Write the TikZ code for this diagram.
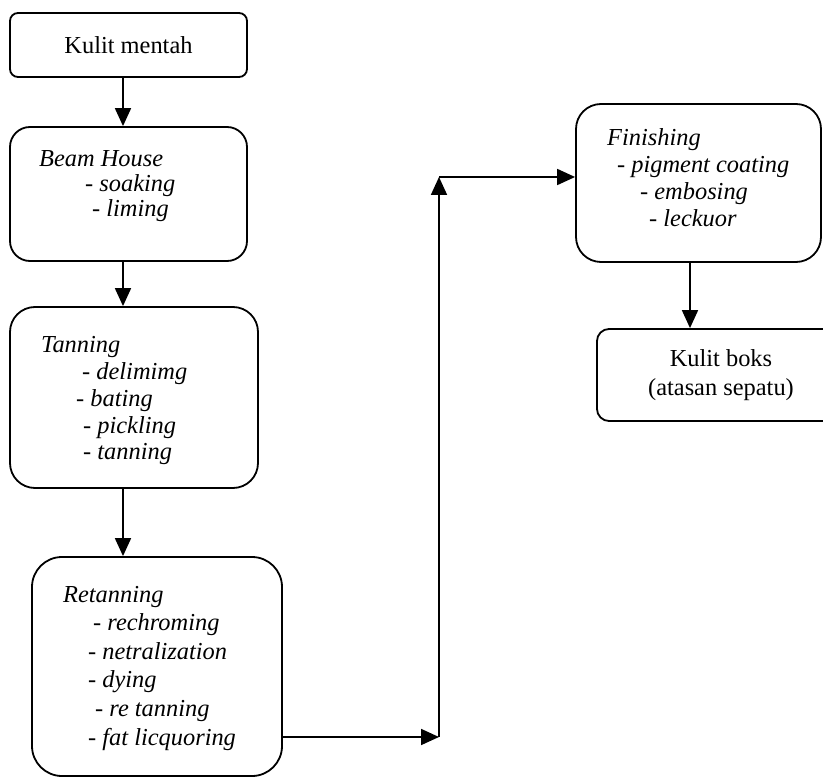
\documentclass[tikz,border=0pt]{standalone}
\usepackage{fontspec}
\setmainfont{Liberation Serif}
\usetikzlibrary{arrows.meta,positioning}

\begin{document}
\begin{tikzpicture}[x=1pt,y=-1pt,
stage/.style={draw,line width=1.8pt,inner sep=0pt,align=center,font=\fontsize{24.4}{29}\selectfont},
steps/.style={anchor=base west,inner sep=0pt,align=left,font=\itshape\fontsize{24.4}{#1}\selectfont},
arr/.style={-{Triangle[length=18pt,width=16pt]},line width=1.8pt}]
\useasboundingbox (0,0) rectangle (823,778);
\clip (0,0) rectangle (823,778);
% boxes
\node[stage,rounded corners=8pt,minimum width=237pt,minimum height=64pt] (mentah) at (128.5,45) {Kulit mentah};
\node[stage,rounded corners=20pt,minimum width=237pt,minimum height=134pt] (beam) at (128.5,194) {};
\node[stage,rounded corners=25pt,minimum width=248pt,minimum height=181pt] (tanning) at (134,397.5) {};
\node[stage,rounded corners=30pt,minimum width=250pt,minimum height=219pt] (retan) at (157,666.5) {};
\node[stage,rounded corners=25pt,minimum width=245pt,minimum height=158pt] (finish) at (698.5,183) {};
\node[stage,rounded corners=12pt,minimum width=248pt,minimum height=92pt] (boks) at (721,375) {Kulit boks\\(atasan sepatu)};
% process steps (placed at baseline of last line)
\node[steps=25] (beamtxt) at (39,217) {Beam House\\\hspace*{46pt}- soaking\\\hspace*{53pt}- liming};
\node[steps=27] (tantxt) at (41,460) {Tanning\\\hspace*{41pt}- delimimg\\\hspace*{35pt}- bating\\\hspace*{42pt}- pickling\\\hspace*{42pt}- tanning};
\node[steps=28.6] (retantxt) at (63,745) {Retanning\\\hspace*{30pt}- rechroming\\\hspace*{25pt}- netralization\\\hspace*{25pt}- dying\\\hspace*{32pt}- re tanning\\\hspace*{25pt}- fat licquoring};
\node[steps=27.3] (finishtxt) at (607,227) {Finishing\\\hspace*{10pt}- pigment coating\\\hspace*{33pt}- embosing\\\hspace*{42pt}- leckuor};
% connectors
\coordinate (leftcol) at (123,0);
\coordinate (rightcol) at (690,0);
\coordinate (lowturn) at (439,737);
\coordinate (highturn) at (439,177);
\draw[arr] (mentah.south -| leftcol) -- (beam.north -| leftcol);
\draw[arr] (beam.south -| leftcol) -- (tanning.north -| leftcol);
\draw[arr] (tanning.south -| leftcol) -- (retan.north -| leftcol);
\draw[arr] (retan.east |- lowturn) -- (lowturn);
\draw[arr] (lowturn) -- (highturn);
\draw[arr] (highturn) -- (finish.west |- highturn);
\draw[arr] (finish.south -| rightcol) -- (boks.north -| rightcol);
\end{tikzpicture}
\end{document}
